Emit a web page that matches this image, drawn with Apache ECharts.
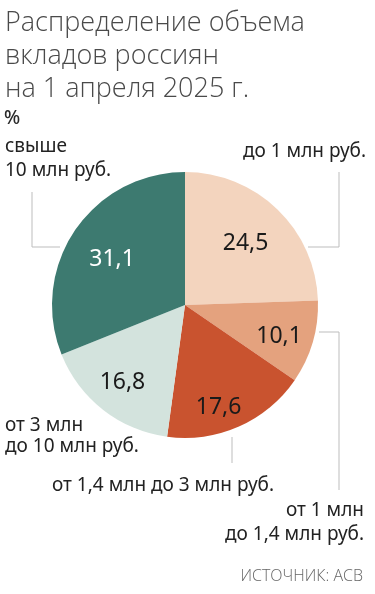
<!DOCTYPE html>
<html><head><meta charset="utf-8">
<script src="https://cdn.jsdelivr.net/npm/echarts@6/dist/echarts.min.js"></script>
<style>html,body{margin:0;padding:0;background:#fff}#c{width:375px;height:594px}</style>
</head><body><div id="c"></div>
<script>
const titleLines = ['Распределение объема', 'вкладов россиян', 'на 1 апреля 2025 г.'];
const unitLabel = '%';
const sourceLabel = 'ИСТОЧНИК: АСВ';
const categories = ['до 1 млн руб.', 'от 1 млн\nдо 1,4 млн руб.', 'от 1,4 млн до 3 млн руб.', 'от 3 млн\nдо 10 млн руб.', 'свыше\n10 млн руб.'];
const values = [24.5, 10.1, 17.6, 16.8, 31.1];
const colors = ['#F3D4BE', '#E4A27E', '#C9532F', '#D3E3DD', '#3D7A70'];
const valueColors = ['#1a1a1a', '#1a1a1a', '#1a1a1a', '#1a1a1a', '#ffffff'];

// annotation layout: where each category label sits and its leader line
const labelPlaces = [
  { x: 366, y: 151.5, align: 'right', lh: 24, line: [[308, 247], [339, 247], [339, 172]] },
  { x: 364, y: 522.5, align: 'right', lh: 24, line: [[319, 332], [339, 332], [339, 490]] },
  { x: 52,  y: 485.5, align: 'left',  lh: 24, line: [[232, 437], [232, 450], [232, 463]] },
  { x: 5,   y: 436,   align: 'left',  lh: 21, line: null },
  { x: 5,   y: 158.5, align: 'left',  lh: 24, line: [[60, 247], [32, 247], [32, 192]] }
];
// small nudges of the in-slice value labels
const valueNudges = [[-9, 10], [-2, 3], [-7, 11], [-1, -1], [10, 11]];

const FONT = 'Noto Sans';
const fmt = v => String(v).replace('.', ',');

const chart = echarts.init(document.getElementById('c'), null, { renderer: 'canvas' });
const center = [185, 305];
const R = 133;

chart.setOption({
  animation: false,
  backgroundColor: '#ffffff',
  title: [
    { text: titleLines.join('\n'), left: 5, top: 7, padding: 0,
      textStyle: { fontFamily: 'Open Sans', fontSize: 27, lineHeight: 33, fontWeight: 300, color: '#4a4a4a' } },
    { text: unitLabel, left: 4, top: 109, padding: 0,
      textStyle: { fontFamily: FONT, fontSize: 19, lineHeight: 20, fontWeight: 500, color: '#2a2a2a' } },
    { text: sourceLabel, right: 12, top: 567, padding: 0,
      textStyle: { fontFamily: 'Open Sans', fontSize: 16, lineHeight: 19, fontWeight: 300, color: '#666666' } }
  ],
  series: [
    {
      type: 'pie',
      center: center,
      radius: [0, R],
      startAngle: 90,
      clockwise: true,
      avoidLabelOverlap: false,
      silent: true,
      data: values.map((v, i) => ({
        value: v,
        name: categories[i],
        itemStyle: { color: colors[i] },
        label: { lineHeight: labelPlaces[i].lh },
        labelLine: { show: !!labelPlaces[i].line }
      })),
      label: {
        show: true,
        position: 'outside',
        formatter: p => categories[p.dataIndex],
        fontFamily: FONT,
        fontSize: 19,
        color: '#222222'
      },
      labelLine: { show: true, lineStyle: { color: '#bdbdbd', width: 1 } },
      labelLayout: function (params) {
        const p = labelPlaces[params.dataIndex];
        const o = { x: p.x, y: p.y, align: p.align, verticalAlign: 'middle' };
        if (p.line) o.labelLinePoints = p.line;
        return o;
      }
    },
    {
      type: 'pie',
      center: center,
      radius: [0, R * 1.46],
      startAngle: 90,
      clockwise: true,
      silent: true,
      z: 5,
      data: values.map((v, i) => ({
        value: v,
        itemStyle: { color: 'rgba(0,0,0,0)' },
        label: { color: valueColors[i], offset: valueNudges[i] }
      })),
      label: {
        show: true,
        position: 'inside',
        formatter: p => fmt(p.value),
        fontFamily: FONT,
        fontSize: 23
      },
      labelLine: { show: false }
    }
  ]
});
</script>
</body></html>
